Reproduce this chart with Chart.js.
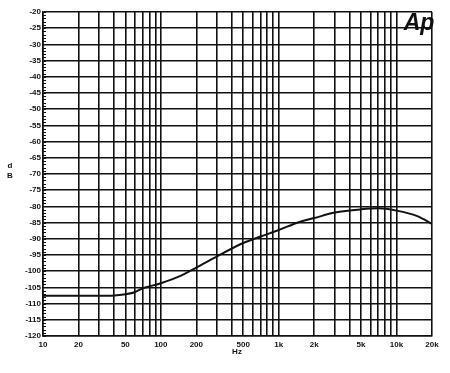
<!DOCTYPE html>
<html>
<head>
<meta charset="utf-8">
<script src="https://cdn.jsdelivr.net/npm/chart.js@4"></script>
<style>
  html, body { margin: 0; padding: 0; background: #fff; }
  #wrap { width: 450px; height: 373px; }
</style>
</head>
<body>
<div id="wrap"><canvas id="resp"></canvas></div>
<script>
const freqs = [10, 20, 30, 40, 50, 60, 70, 80, 100, 150, 200, 300, 500, 700, 1000, 1500, 2000, 3000, 5000, 7000, 10000, 15000, 20000];
const levels = [-107.6, -107.6, -107.6, -107.5, -107.1, -106.5, -105.3, -104.7, -103.7, -101.3, -98.9, -95.4, -91.3, -89.3, -87.3, -84.8, -83.6, -81.9, -80.9, -80.6, -81.3, -83, -85.4];

const gridFreqs = [];
for (let d = 10; d <= 1000; d *= 10) {
  for (let m = 1; m <= 9; m++) gridFreqs.push(m * d);
}
gridFreqs.push(10000, 20000);
const freqLabels = { 10: "10", 20: "20", 50: "50", 100: "100", 200: "200", 500: "500",
  1000: "1k", 2000: "2k", 5000: "5k", 10000: "10k", 20000: "20k" };

const tickFont = { family: "Liberation Sans", size: 8, weight: "bold" };

// minor ticks on the left edge, axis letters and the logo
const extras = {
  id: "extras",
  afterDraw(chart) {
    const ctx = chart.ctx, y = chart.scales.y, area = chart.chartArea;
    ctx.save();
    ctx.strokeStyle = "#111";
    ctx.lineWidth = 1;
    for (let v = -120; v <= -20; v += 1) {
      const py = Math.round(y.getPixelForValue(v)) + 0.5;
      ctx.beginPath();
      ctx.moveTo(area.left, py);
      ctx.lineTo(area.left + 3, py);
      ctx.stroke();
    }
    ctx.fillStyle = "#111";
    ctx.textAlign = "center";
    ctx.textBaseline = "middle";
    ctx.font = "bold 8px 'Liberation Sans'";
    ctx.fillText("d", 10, 166);
    ctx.fillText("B", 10, 176);
    ctx.fillText("Hz", 237, 352);
    ctx.font = "italic bold 23px 'Liberation Sans'";
    ctx.fillText("Ap", 419, 24);
    ctx.restore();
  }
};

new Chart(document.getElementById("resp"), {
  type: "line",
  data: {
    datasets: [{
      data: freqs.map((f, i) => ({ x: f, y: levels[i] })),
      borderColor: "#111",
      borderWidth: 2,
      pointRadius: 0,
      cubicInterpolationMode: "monotone",
      fill: false
    }]
  },
  options: {
    responsive: true,
    maintainAspectRatio: false,
    animation: false,
    layout: { padding: { top: 12, right: 18, bottom: 0, left: 0 } },
    plugins: { legend: { display: false }, tooltip: { enabled: false } },
    scales: {
      x: {
        type: "logarithmic",
        min: 10,
        max: 20000,
        afterBuildTicks: (s) => { s.ticks = gridFreqs.map((v) => ({ value: v })); },
        afterFit: (s) => { s.height = 37; },
        grid: { color: "#111", lineWidth: 1.6, drawTicks: false },
        border: { color: "#111", width: 1.6 },
        ticks: {
          autoSkip: false,
          maxRotation: 0,
          padding: 4,
          color: "#111",
          font: tickFont,
          callback: (v) => freqLabels[v] || ""
        }
      },
      y: {
        min: -120,
        max: -20,
        afterFit: (s) => { s.width = 43; },
        grid: { color: "#111", lineWidth: 1.6, drawTicks: false },
        border: { color: "#111", width: 1.6 },
        ticks: { stepSize: 5, padding: 2, color: "#111", font: tickFont }
      }
    }
  },
  plugins: [extras]
});
</script>
</body>
</html>
